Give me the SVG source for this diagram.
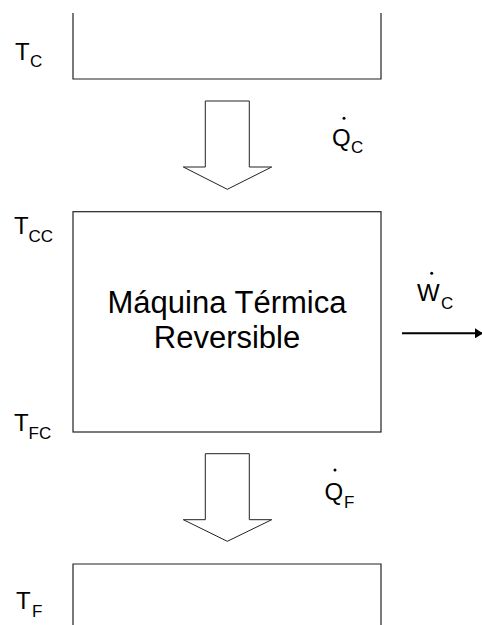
<svg xmlns="http://www.w3.org/2000/svg" width="482" height="625" viewBox="0 0 482 625">
<style>
.box{fill:none;stroke:#222;stroke-width:1.2}
.arr{fill:#fff;stroke:#222;stroke-width:1}
.t{font-family:"Liberation Sans",Arial,sans-serif;fill:#000;font-size:24px}
.s{font-size:17px}
.m{font-family:"Liberation Sans",Arial,sans-serif;fill:#000;font-size:31px;text-anchor:middle}
</style>
<defs>
<marker id="ah" markerWidth="8" markerHeight="10" refX="7" refY="5" orient="auto" markerUnits="userSpaceOnUse">
<path d="M0,0 L8,5 L0,10 Z" fill="#000"/>
</marker>
</defs>
<g id="hot">
<path class="box" d="M73,13 V79 H381 V13"/>
<text class="t" x="15" y="60">T</text><text class="t s" x="30" y="67">C</text>
</g>
<g id="engine">
<rect class="box" x="73" y="211.7" width="308" height="220.3"/>
<text class="m" x="227" y="313">Máquina Térmica</text>
<text class="m" x="227" y="348">Reversible</text>
<text class="t" x="14" y="234">T</text><text class="t s" x="28.5" y="242">CC</text>
<text class="t" x="14" y="431">T</text><text class="t s" x="28.5" y="439">FC</text>
</g>
<g id="cold">
<path class="box" d="M73,626 V564 H381 V626"/>
<text class="t" x="16" y="609">T</text><text class="t s" x="32" y="617">F</text>
</g>
<g id="connectors">
<path class="arr" d="M205.3,101 H249.3 V167 H271.7 L227.3,189.3 L183.3,167 H205.3 Z"/>
<path class="arr" d="M205.3,453.7 H249.3 V519.7 H271.7 L227.3,541.3 L183.3,519.7 H205.3 Z"/>
<line x1="402" y1="333.3" x2="482" y2="333.3" stroke="#000" stroke-width="2" marker-end="url(#ah)"/>
</g>
<g id="labels">
<circle cx="344" cy="118.3" r="1.5" fill="#000"/>
<text class="t" x="332" y="146">Q</text><text class="t s" x="351" y="153">C</text>
<circle cx="335" cy="470" r="1.5" fill="#000"/>
<text class="t" x="324.5" y="500">Q</text><text class="t s" x="344" y="508">F</text>
<circle cx="431.7" cy="273.3" r="1.5" fill="#000"/>
<text class="t" x="417" y="301">W</text><text class="t s" x="441" y="309">C</text>
</g>
</svg>
